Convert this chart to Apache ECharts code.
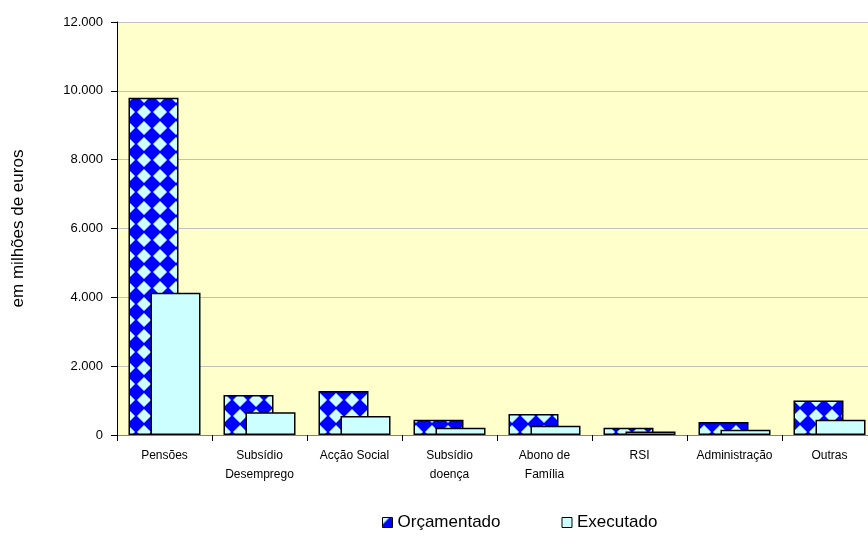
<!DOCTYPE html>
<html>
<head>
<meta charset="utf-8">
<script src="https://cdn.jsdelivr.net/npm/echarts@6/dist/echarts.min.js"></script>
<style>
  html, body { margin: 0; padding: 0; background: #fff; overflow: hidden; }
  /* o gráfico original está cortado à direita: área de desenho um pouco mais larga */
  #chart { width: 877px; height: 539px; }
</style>
</head>
<body>
<div id="chart"></div>
<script>
const CATEGORIES = ['Pensões', 'Subsídio\nDesemprego', 'Acção Social', 'Subsídio\ndoença',
    'Abono de\nFamília', 'RSI', 'Administração', 'Outras'];
const ORCAMENTADO = [9800, 1160, 1280, 440, 610, 210, 380, 1000];
const EXECUTADO = [4130, 660, 550, 210, 270, 100, 150, 440];
const Y_TICKS = [0, 2000, 4000, 6000, 8000, 10000, 12000];

const FONT = '"Liberation Sans", Arial, sans-serif';

// padrão de losangos azul / ciano
function makeDiamondPattern() {
    const size = 16;
    const c = document.createElement('canvas');
    c.width = size;
    c.height = size;
    const ctx = c.getContext('2d');
    ctx.fillStyle = '#CCFFFF';
    ctx.fillRect(0, 0, size, size);
    ctx.fillStyle = '#0000FF';
    ctx.beginPath();
    ctx.moveTo(size / 2, -1);
    ctx.lineTo(size + 1, size / 2);
    ctx.lineTo(size / 2, size + 1);
    ctx.lineTo(-1, size / 2);
    ctx.closePath();
    ctx.fill();
    return c;
}

function formatThousands(v) {
    return String(v).replace(/\B(?=(\d{3})+(?!\d))/g, '.');
}

const chart = echarts.init(document.getElementById('chart'));
const pattern = { image: makeDiamondPattern(), repeat: 'repeat' };

chart.setOption({
    animation: false,
    textStyle: { fontFamily: FONT },
    grid: {
        left: 117,
        top: 22,
        right: 0,
        height: 413,
        show: true,
        backgroundColor: '#FFFFCC',
        borderWidth: 0
    },
    legend: {
        top: 514,
        left: 382,
        padding: 0,
        itemWidth: 10,
        itemHeight: 10,
        itemGap: 61,
        textStyle: { fontSize: 17, color: '#000', fontFamily: FONT },
        data: [
            { name: 'Orçamentado', icon: 'rect', itemStyle: { color: pattern, borderColor: '#000', borderWidth: 1 } },
            { name: 'Executado', icon: 'rect', itemStyle: { color: '#CCFFFF', borderColor: '#000', borderWidth: 1 } }
        ]
    },
    xAxis: {
        type: 'category',
        data: CATEGORIES,
        axisLine: { lineStyle: { color: '#808080', width: 1 } },
        axisTick: { show: true, length: 6, lineStyle: { color: '#000' } },
        axisLabel: {
            color: '#000',
            fontSize: 12,
            margin: 11,
            lineHeight: 19,
            interval: 0,
            fontFamily: FONT
        }
    },
    yAxis: {
        type: 'value',
        min: 0,
        max: 12000,
        interval: 2000,
        name: 'em milhões de euros',
        nameLocation: 'middle',
        nameGap: 90,
        nameRotate: 90,
        nameTextStyle: { fontSize: 17, color: '#000', fontFamily: FONT },
        axisLine: { show: true, lineStyle: { color: '#000', width: 1 } },
        axisTick: { show: true, length: 6, lineStyle: { color: '#000' } },
        splitLine: { lineStyle: { color: '#C0C0C0', width: 1 } },
        axisLabel: {
            color: '#000',
            fontSize: 13,
            margin: 14,
            fontFamily: FONT,
            formatter: v => Y_TICKS.includes(v) ? formatThousands(v) : ''
        }
    },
    series: [
        {
            name: 'Orçamentado',
            type: 'bar',
            data: ORCAMENTADO,
            barWidth: 50,
            barGap: '-56%',
            itemStyle: { color: pattern, borderColor: '#000', borderWidth: 1.5 }
        },
        {
            name: 'Executado',
            type: 'bar',
            data: EXECUTADO,
            barWidth: 50,
            itemStyle: { color: '#CCFFFF', borderColor: '#000', borderWidth: 1.5 }
        }
    ]
});
</script>
</body>
</html>
